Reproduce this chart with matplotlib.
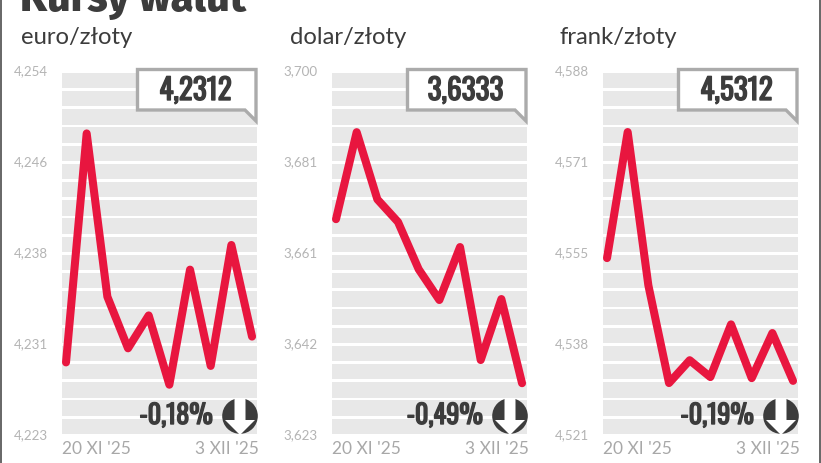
import matplotlib
matplotlib.use("Agg")
import matplotlib.pyplot as plt
from matplotlib.patches import Polygon, Circle, Rectangle
from matplotlib import font_manager as fm
import matplotlib.patheffects as pe

names = {f.name for f in fm.fontManager.ttflist}
def pick(*c):
    for n in c:
        if n in names:
            return n
    return 'DejaVu Sans'
NARROW = pick('Oswald', 'Liberation Sans Narrow', 'Roboto')
HEAD = pick('Fira Sans', 'Lato')
BODY = pick('Lato', 'Open Sans')

days = list(range(10))
euro = [4.2292, 4.2487, 4.2348, 4.2304, 4.2332, 4.2273, 4.2371, 4.2289, 4.2392, 4.2314]
dolar = [3.6687, 3.6871, 3.6729, 3.6681, 3.6581, 3.6516, 3.6628, 3.6389, 3.6518, 3.6340]
frank = [4.5536, 4.5768, 4.5486, 4.5306, 4.5348, 4.5317, 4.5414, 4.5315, 4.5398, 4.5310]
titles = ['euro/złoty', 'dolar/złoty', 'frank/złoty']
ticks_e = ['4,223', '4,231', '4,238', '4,246', '4,254']
ticks_d = ['3,623', '3,642', '3,661', '3,681', '3,700']
ticks_f = ['4,521', '4,538', '4,555', '4,571', '4,588']
ranges = [(4.223, 4.254), (3.623, 3.700), (4.521, 4.588)]
lasts = ['4,2312', '3,6333', '4,5312']
changes = ['-0,18%', '-0,49%', '-0,19%']
date_a, date_b = "20 XI '25", "3 XII '25"
series = [euro, dolar, frank]
tick_sets = [ticks_e, ticks_d, ticks_f]

W, H = 821, 464
fig = plt.figure(figsize=(W/100, H/100), dpi=100, facecolor='white')
ov = fig.add_axes([0, 0, 1, 1], zorder=5)
ov.set_xlim(0, W); ov.set_ylim(H, 0); ov.axis('off')

DARK = '#3c3c3c'; GRAY = '#ababab'; RED = '#e8163f'; STRIPE = '#e8e8e8'
ov.add_patch(Rectangle((0, 0), 1.6, H, color='#6a6a6a', lw=0))
ov.add_patch(Rectangle((819.4, 0), 1.6, H, color='#6a6a6a', lw=0))
ov.text(20, 11, 'Kursy walut', fontsize=30, fontweight='heavy', family=HEAD,
        color=DARK, ha='left', va='baseline')
bold = [pe.withStroke(linewidth=1.0, foreground=DARK)]

offs = [0, 270, 541]
title_x = [21, 290, 560]
for i in range(3):
    o = offs[i]
    ax = fig.add_axes([(62+o)/W, 1-435/H, 195/W, 364/H], zorder=2)
    lo, hi = ranges[i]
    d = (hi-lo)*1.2/364
    ax.set_ylim(lo+d, hi+d)
    ax.set_xlim(-0.194, 9.24)
    ax.axis('off')
    nb = 20
    for k in range(nb):
        y0 = lo + d + (hi-lo)*k/nb
        y1 = lo + d + (hi-lo)*((k+1)/nb - 0.0075)
        ax.axhspan(y0, y1, color=STRIPE, lw=0, zorder=1)
    ax.plot(days, series[i], color=RED, lw=5.8, solid_joinstyle='round',
            solid_capstyle='round', zorder=3, clip_on=False)

    ov.text(title_x[i], 38, titles[i], fontsize=17.2, family=BODY,
            color=DARK, ha='left', va='center')
    for j, t in enumerate(tick_sets[i]):
        ypx = 435 - j*91
        ov.text(48+o, ypx, t, fontsize=9.6, family=BODY, color='#b4b4b4',
                ha='right', va='center')
    ov.text(62+o, 449, date_a, fontsize=12.5, family=BODY, color='#a8a8a8', ha='left', va='center')
    ov.text(259+o, 449, date_b, fontsize=12.5, family=BODY, color='#a8a8a8', ha='right', va='center')

    ov.add_patch(Polygon([(137.5+o, 70.5), (256+o, 70.5), (256+o, 122), (245+o, 111),
                          (137.5+o, 111)], closed=True, fc='white', ec=GRAY, lw=2.4,
                         joinstyle='miter'))
    ov.text(195.5+o, 91.5, lasts[i], fontsize=21, fontweight='bold', family=NARROW,
            color=DARK, ha='center', va='center', path_effects=bold)
    ov.text(213+o, 416.5, changes[i], fontsize=19, fontweight='bold', family=NARROW,
            color=DARK, ha='right', va='center', path_effects=bold)
    cx, cy = 240+o, 417
    ov.add_patch(Circle((cx, cy), 17.8, fc=DARK, ec='none'))
    ov.add_patch(Polygon([(cx-5.5, cy-18), (cx+5.5, cy-18), (cx+5.5, cy+4), (cx+15, cy+4),
                          (cx, cy+19), (cx-15, cy+4), (cx-5.5, cy+4)], closed=True, fc='white', ec='none'))

fig.savefig('out.png', dpi=100)
